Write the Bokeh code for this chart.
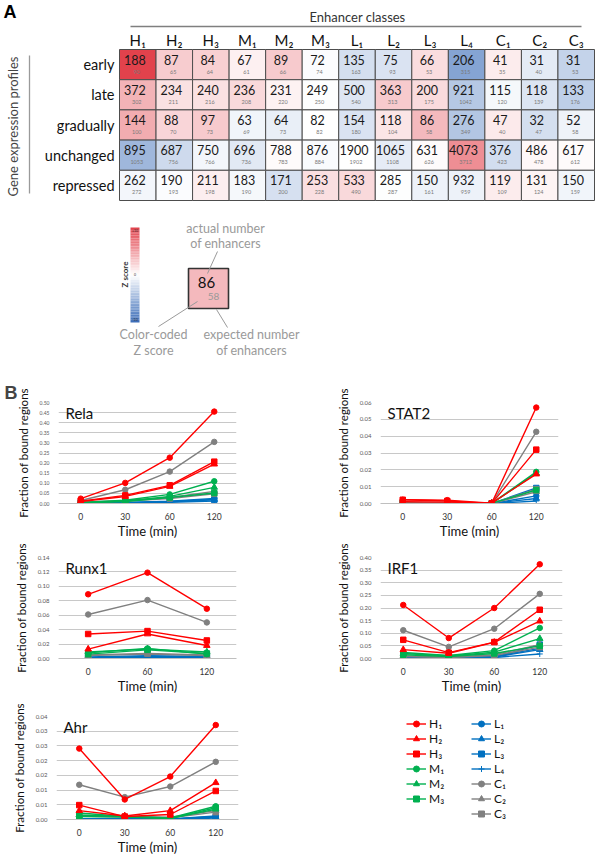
import numpy as np
from bokeh.plotting import figure
from bokeh.models import (Range1d, FactorRange, FixedTicker, PrintfTickFormatter, Label,
                          Legend, LegendItem, ColumnDataSource, LinearColorMapper)
from bokeh.layouts import column, row
from bokeh.embed import file_html
from bokeh.resources import INLINE
from bokeh.core.properties import value

FONT = "Lato"

# ---------------- data: panel A ----------------
classes = ["H1", "H2", "H3", "M1", "M2", "M3", "L1", "L2", "L3", "L4", "C1", "C2", "C3"]
class_labels = ["H₁", "H₂", "H₃", "M₁", "M₂", "M₃", "L₁", "L₂", "L₃", "L₄", "C₁", "C₂", "C₃"]
profiles = ["early", "late", "gradually", "unchanged", "repressed"]

actual_early = [188, 87, 84, 67, 89, 72, 135, 75, 66, 206, 41, 31, 31]
actual_late = [372, 234, 240, 236, 231, 249, 500, 363, 200, 921, 115, 118, 133]
actual_gradually = [144, 88, 97, 63, 64, 82, 154, 118, 86, 276, 47, 32, 52]
actual_unchanged = [895, 687, 750, 696, 788, 876, 1900, 1065, 631, 4073, 376, 486, 617]
actual_repressed = [262, 190, 211, 183, 171, 253, 533, 285, 150, 932, 119, 131, 150]

expected_early = [90, 65, 64, 61, 66, 74, 163, 93, 53, 315, 35, 40, 53]
expected_late = [302, 211, 216, 208, 220, 250, 540, 313, 175, 1042, 120, 139, 176]
expected_gradually = [100, 70, 73, 69, 73, 82, 180, 104, 58, 349, 40, 47, 58]
expected_unchanged = [1053, 756, 766, 736, 783, 884, 1902, 1108, 626, 3712, 423, 478, 612]
expected_repressed = [272, 193, 198, 190, 200, 228, 490, 287, 161, 959, 109, 124, 159]

key_actual = 86
key_expected = 58

# ---------------- data: panel B ----------------
times4 = ["0", "30", "60", "120"]
times3 = ["0", "60", "120"]

rela = {
    "H1": [0.024, 0.102, 0.227, 0.455], "H2": [0.010, 0.035, 0.085, 0.195],
    "H3": [0.012, 0.040, 0.090, 0.207], "M1": [0.005, 0.016, 0.045, 0.110],
    "M2": [0.004, 0.012, 0.035, 0.080], "M3": [0.003, 0.010, 0.030, 0.052],
    "L1": [0.002, 0.005, 0.012, 0.025], "L2": [0.002, 0.004, 0.010, 0.020],
    "L3": [0.001, 0.003, 0.009, 0.018], "L4": [0.001, 0.002, 0.006, 0.012],
    "C1": [0.015, 0.068, 0.158, 0.305], "C2": [0.006, 0.015, 0.030, 0.060],
    "C3": [0.005, 0.012, 0.025, 0.048],
}
stat2 = {
    "H1": [0.0022, 0.0020, 0.0002, 0.0570], "H2": [0.0010, 0.0008, 0.0002, 0.0175],
    "H3": [0.0022, 0.0015, 0.0001, 0.0320], "M1": [0.0005, 0.0005, 0.0001, 0.0188],
    "M2": [0.0004, 0.0004, 0.0001, 0.0180], "M3": [0.0003, 0.0003, 0.0001, 0.0080],
    "L1": [0.0001, 0.0001, 0.0, 0.0045], "L2": [0.0001, 0.0001, 0.0, 0.0030],
    "L3": [0.0002, 0.0001, 0.0, 0.0092], "L4": [0.0, 0.0, 0.0, 0.0015],
    "C1": [0.0008, 0.0006, 0.0001, 0.0426], "C2": [0.0003, 0.0003, 0.0, 0.0070],
    "C3": [0.0003, 0.0003, 0.0, 0.0085],
}
runx1 = {
    "H1": [0.089, 0.119, 0.069], "H2": [0.013, 0.034, 0.018], "H3": [0.034, 0.038, 0.025],
    "M1": [0.008, 0.014, 0.006], "M2": [0.009, 0.013, 0.009], "M3": [0.006, 0.012, 0.007],
    "L1": [0.002, 0.004, 0.003], "L2": [0.001, 0.003, 0.002], "L3": [0.001, 0.002, 0.002],
    "L4": [0.000, 0.001, 0.001], "C1": [0.061, 0.081, 0.050], "C2": [0.004, 0.006, 0.004],
    "C3": [0.005, 0.007, 0.005],
}
irf1 = {
    "H1": [0.212, 0.081, 0.200, 0.373], "H2": [0.035, 0.021, 0.064, 0.148],
    "H3": [0.074, 0.023, 0.065, 0.193], "M1": [0.024, 0.012, 0.031, 0.121],
    "M2": [0.020, 0.010, 0.025, 0.079], "M3": [0.015, 0.008, 0.020, 0.050],
    "L1": [0.004, 0.002, 0.008, 0.040], "L2": [0.003, 0.002, 0.006, 0.035],
    "L3": [0.003, 0.001, 0.005, 0.055], "L4": [0.002, 0.001, 0.004, 0.018],
    "C1": [0.112, 0.046, 0.118, 0.256], "C2": [0.010, 0.005, 0.015, 0.055],
    "C3": [0.008, 0.004, 0.012, 0.045],
}
ahr = {
    "H1": [0.0241, 0.0068, 0.0146, 0.0321], "H2": [0.0030, 0.0012, 0.0030, 0.0125],
    "H3": [0.0049, 0.0010, 0.0017, 0.0097], "M1": [0.0022, 0.0010, 0.0005, 0.0045],
    "M2": [0.0015, 0.0010, 0.0004, 0.0035], "M3": [0.0010, 0.0008, 0.0003, 0.0040],
    "L1": [0.0003, 0.0003, 0.0002, 0.0012], "L2": [0.0002, 0.0002, 0.0001, 0.0008],
    "L3": [0.0002, 0.0002, 0.0001, 0.0010], "L4": [0.0001, 0.0001, 0.0, 0.0005],
    "C1": [0.0118, 0.0076, 0.0112, 0.0196], "C2": [0.0015, 0.0010, 0.0008, 0.0030],
    "C3": [0.0012, 0.0008, 0.0006, 0.0025],
}

rela_ticks = [0.0, 0.05, 0.10, 0.15, 0.20, 0.25, 0.30, 0.35, 0.40, 0.45, 0.50]
stat2_ticks = [0.0, 0.01, 0.02, 0.03, 0.04, 0.05, 0.06]
runx1_ticks = [0.0, 0.02, 0.04, 0.06, 0.08, 0.10, 0.12, 0.14]
irf1_ticks = [0.0, 0.05, 0.10, 0.15, 0.20, 0.25, 0.30, 0.35, 0.40]
ahr_ticks = [0.0, 0.005, 0.01, 0.015, 0.02, 0.025, 0.03, 0.035]
ahr_tick_labels = ["0.00", "0.01", "0.01", "0.02", "0.02", "0.03", "0.03", "0.04"]

# ---------------- colour scale ----------------
blue = (59, 109, 184)
white = (255, 255, 255)
red = (226, 66, 76)
pal = []
for k in range(201):
    t = k / 200 * 2 - 1
    end = blue if t < 0 else red
    a = abs(t)
    c = tuple(int(round(white[i] + (end[i] - white[i]) * a)) for i in range(3))
    pal.append("#%02x%02x%02x" % c)
mapper = LinearColorMapper(palette=pal, low=-10, high=10)

# ---------------- panel A ----------------
W_A, H_A = 600, 380
cw = (594 - 119) / 13
ch = (200 - 49) / 5


def X(px):
    return (px - 119) / cw - 0.5


def Y(py):
    return (py - 49) / ch - 0.5


pA = figure(width=W_A, height=H_A, x_range=Range1d(X(0), X(W_A)), y_range=Range1d(Y(H_A), Y(0)),
            x_axis_type=None, y_axis_type=None, output_backend="svg", toolbar_location=None,
            min_border=0, outline_line_color=None)
pA.min_border_left = pA.min_border_right = pA.min_border_top = pA.min_border_bottom = 0

actual = [actual_early, actual_late, actual_gradually, actual_unchanged, actual_repressed]
expected = [expected_early, expected_late, expected_gradually, expected_unchanged, expected_repressed]
xs, ys, zs, at, et = [], [], [], [], []
for j in range(len(profiles)):
    for i in range(len(classes)):
        a, e = actual[j][i], expected[j][i]
        xs.append(i)
        ys.append(j)
        zs.append((a - e) / np.sqrt(e))
        at.append(str(a))
        et.append(str(e))
src = ColumnDataSource(dict(x=xs, y=ys, z=zs, a=at, e=et))
pA.rect(x="x", y="y", width=1, height=1, source=src,
        fill_color={"field": "z", "transform": mapper}, line_color="#4d4d4d", line_width=1)
pA.text(x="x", y="y", text="a", source=src, x_offset=-3, y_offset=-5, text_align="center",
        text_baseline="middle", text_font=value(FONT), text_font_size="12.5px", text_color="#1a1a1a")
pA.text(x="x", y="y", text="e", source=src, x_offset=-1, y_offset=7, text_align="center",
        text_baseline="middle", text_font=value(FONT), text_font_size="5.5px", text_color="#7a7a7a")

# column headers
pA.text(x=list(range(len(classes))), y=[-0.5] * len(classes), text=class_labels, y_offset=-10,
        text_align="center", text_baseline="middle", text_font=value(FONT),
        text_font_size="15px", text_color="#111111")
# row labels
pA.text(x=[-0.5] * len(profiles), y=list(range(len(profiles))), text=profiles, x_offset=-5,
        text_align="right", text_baseline="middle", text_font=value(FONT),
        text_font_size="14.5px", text_color="#111111")

pA.text(x=[X(357)], y=[Y(16)], text=["Enhancer classes"], text_align="center", text_baseline="middle",
        text_font=value(FONT), text_font_size="13px", text_color="#333333")
pA.segment(x0=[X(130)], y0=[Y(26)], x1=[X(581)], y1=[Y(26)], line_color="#7f7f7f", line_width=1.3)
pA.text(x=[X(12)], y=[Y(126)], text=["Gene expression profiles"], angle=np.pi / 2, text_align="center",
        text_baseline="middle", text_font=value(FONT), text_font_size="13px", text_color="#444444")
pA.segment(x0=[X(29)], y0=[Y(55)], x1=[X(29)], y1=[Y(193)], line_color="#9a9a9a", line_width=1.3)
pA.text(x=[X(3)], y=[Y(11)], text=["A"], text_align="left", text_baseline="middle",
        text_font=value("Liberation Sans"), text_font_style="bold", text_font_size="18px",
        text_color="#000000")

# colour bar of the key
nseg = 60
zb = np.linspace(-10, 10, nseg + 1)
yb_top, yb_bot = 227, 322
seg_b = [Y(yb_bot - (yb_bot - yb_top) * k / nseg) for k in range(nseg)]
seg_t = [Y(yb_bot - (yb_bot - yb_top) * (k + 1) / nseg) for k in range(nseg)]
zmid = [(zb[k] + zb[k + 1]) / 2 for k in range(nseg)]
pA.quad(left=X(130), right=X(139), bottom="bottom", top="top",
        fill_color={"field": "z", "transform": mapper}, line_color=None,
        source=ColumnDataSource(dict(bottom=seg_b, top=seg_t, z=zmid)))
pA.text(x=[X(134.5)] * 3, y=[Y(230), Y(274), Y(319)], text=["+10", "0", "-10"], text_align="center",
        text_baseline="middle", text_font=value(FONT), text_font_size="3.5px", text_color="#333333")
pA.text(x=[X(124)], y=[Y(274)], text=["Z score"], angle=np.pi / 2, text_align="center",
        text_baseline="middle", text_font=value(FONT), text_font_style="bold",
        text_font_size="8px", text_color="#333333")

# example cell of the key
kz = (key_actual - key_expected) / np.sqrt(key_expected)
pA.rect(x="x", y="y", width=40 / cw, height=40 / ch,
        fill_color={"field": "z", "transform": mapper}, line_color="#333333", line_width=1.6,
        source=ColumnDataSource(dict(x=[X(208)], y=[Y(288)], z=[kz])))
pA.text(x=[X(206)], y=[Y(282)], text=[str(key_actual)], text_align="center", text_baseline="middle",
        text_font=value(FONT), text_font_size="15px", text_color="#111111")
pA.text(x=[X(213)], y=[Y(296)], text=[str(key_expected)], text_align="center", text_baseline="middle",
        text_font=value(FONT), text_font_size="10px", text_color="#999999")

ann_x = [X(225), X(225), X(153), X(153), X(251), X(251)]
ann_y = [Y(228), Y(243), Y(334), Y(350), Y(334), Y(350)]
ann_t = ["actual number", "of enhancers", "Color-coded", "Z score", "expected number", "of enhancers"]
pA.text(x=ann_x, y=ann_y, text=ann_t, text_align="center", text_baseline="middle",
        text_font=value(FONT), text_font_size="12.5px", text_color="#9a9a9a")
pA.segment(x0=[X(217), X(158), X(227)], y0=[Y(251), Y(326), Y(327)],
           x1=[X(207), X(197), X(216)], y1=[Y(273), Y(301), Y(309)],
           line_color="#9a9a9a", line_width=1)

# ---------------- panel B ----------------
colors = {"H": "#FF0000", "M": "#00B050", "L": "#0070C0", "C": "#808080"}
markers = {"1": "circle", "2": "triangle", "3": "square", "4": "cross"}
msize = {"circle": 5.5, "triangle": 6.5, "square": 5.5, "cross": 6}
draw_order = ["L4", "L3", "L2", "L1", "C3", "C2", "M3", "M2", "M1", "C1", "H3", "H2", "H1"]


def line_chart(title, times, data, ticks, width, height, bl, br, bt, bb, tick_font, overrides=None):
    ymax = ticks[-1]
    p = figure(width=width, height=height, x_range=FactorRange(factors=times), y_range=Range1d(0, ymax),
               output_backend="svg", toolbar_location=None, outline_line_color=None,
               min_border_left=bl, min_border_right=br, min_border_top=bt, min_border_bottom=bb)
    p.xgrid.visible = False
    p.ygrid.grid_line_color = "#c8c8c8"
    p.ygrid.grid_line_width = 1
    p.yaxis.ticker = FixedTicker(ticks=ticks)
    p.yaxis.formatter = PrintfTickFormatter(format="%.2f")
    if overrides:
        p.yaxis.major_label_overrides = overrides
    p.yaxis.axis_line_color = None
    p.yaxis.major_tick_line_color = None
    p.yaxis.minor_tick_line_color = None
    p.yaxis.major_label_text_font_size = tick_font
    p.yaxis.major_label_text_color = "#595959"
    p.yaxis.major_label_text_font = FONT
    p.yaxis.major_label_standoff = 3
    p.yaxis.axis_label = "Fraction of bound regions"
    p.yaxis.axis_label_text_font = FONT
    p.yaxis.axis_label_text_font_size = "11.5px"
    p.yaxis.axis_label_text_font_style = "normal"
    p.yaxis.axis_label_text_color = "#111111"
    p.yaxis.axis_label_standoff = 7
    p.xaxis.axis_line_color = "#bfbfbf"
    p.xaxis.major_tick_line_color = None
    p.xaxis.major_label_text_font_size = "8.5px"
    p.xaxis.major_label_text_font = FONT
    p.xaxis.major_label_text_color = "#333333"
    p.xaxis.major_label_standoff = 3
    p.xaxis.axis_label = "Time (min)"
    p.xaxis.axis_label_text_font = FONT
    p.xaxis.axis_label_text_font_size = "13px"
    p.xaxis.axis_label_text_font_style = "normal"
    p.xaxis.axis_label_text_color = "#111111"
    p.xaxis.axis_label_standoff = 0
    for c in draw_order:
        col = colors[c[0]]
        mk = markers[c[1]]
        p.line(x=times, y=data[c], line_color=col, line_width=1.4)
        p.scatter(x=times, y=data[c], marker=mk, size=msize[mk], fill_color=col, line_color=col)
    p.add_layout(Label(x=7, y=ymax, x_units="screen", y_units="data", y_offset=-10, text=title,
                       text_font=FONT, text_font_size="15px", text_baseline="middle",
                       text_color="#111111"))
    return p


# row 1: y 380..541, row 2: 541..696, row 3: 696..857
p_rela = line_chart("Rela", times4, rela, rela_ticks, 300, 161, 58, 64, 22, 29, "5px")
p_rela.title.text = "B"
p_rela.title.text_font = "Liberation Sans"
p_rela.title.text_font_size = "18px"
p_rela.title.text_font_style = "bold"
p_rela.title.align = "left"
p_rela.title.offset = -54
p_rela.title.standoff = 0
p_stat2 = line_chart("STAT2", times4, stat2, stat2_ticks, 300, 161, 80, 42, 22, 29, "6px")
p_runx1 = line_chart("Runx1", times3, runx1, runx1_ticks, 300, 155, 58, 64, 16, 28, "6px")
p_irf1 = line_chart("IRF1", times4, irf1, irf1_ticks, 300, 155, 80, 38, 16, 28, "6px")
p_ahr = line_chart("Ahr", times4, ahr, ahr_ticks, 300, 161, 56, 62, 17, 28, "6px",
                   overrides=dict(zip(ahr_ticks, ahr_tick_labels)))


# legend: two columns, each in its own small figure whose frame starts at the legend corner
def legend_fig(width, left, top, idx):
    f = figure(width=width, height=161, x_range=Range1d(0, 1), y_range=Range1d(0, 1),
               x_axis_type=None, y_axis_type=None, output_backend="svg", toolbar_location=None,
               min_border=0, outline_line_color=None, title=None)
    f.min_border_left = left
    f.min_border_top = top
    f.min_border_right = 0
    f.min_border_bottom = 0
    its = []
    for k in idx:
        c, lab = classes[k], class_labels[k]
        col = colors[c[0]]
        mk = markers[c[1]]
        lr = f.line(x=[-10, -9], y=[-10, -10], line_color=col, line_width=1.4)
        sr = f.scatter(x=[-10], y=[-10], marker=mk, size=msize[mk], fill_color=col, line_color=col)
        its.append(LegendItem(label=lab, renderers=[lr, sr]))
    leg = Legend(items=its, location="top_left", orientation="vertical", spacing=0, padding=0,
                 margin=0, glyph_width=20, glyph_height=15, label_height=15, label_width=30,
                 label_standoff=3, border_line_color=None, background_fill_alpha=0,
                 label_text_font=FONT, label_text_font_size="12px", label_text_color="#111111")
    f.add_layout(leg)
    return f


pL1 = legend_fig(166, 106, 20, range(0, 6))
pL2 = legend_fig(134, 5, 20, range(6, 13))

layout = column(pA, row(p_rela, p_stat2, spacing=0), row(p_runx1, p_irf1, spacing=0),
                row(p_ahr, pL1, pL2, spacing=0), spacing=0)

open("out.html", "w").write(file_html(layout, INLINE))
